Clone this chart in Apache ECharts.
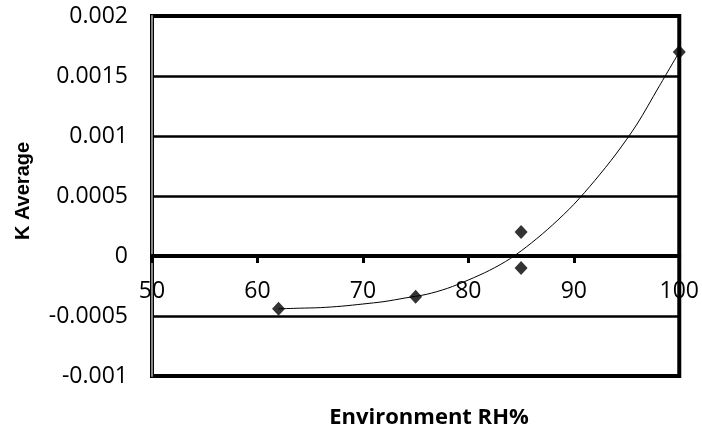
<!DOCTYPE html>
<html>
<head>
<meta charset="utf-8">
<script src="https://cdn.jsdelivr.net/npm/echarts@6/dist/echarts.min.js"></script>
<style>
html,body{margin:0;padding:0;background:#fff;}
#chart{width:702px;height:434px;}
</style>
</head>
<body>
<div id="chart"></div>
<script>
// Measured points
const rhValues = [62, 75, 85, 85, 100];
const kValues = [-0.00044, -0.00034, 0.0002, -0.0001, 0.0017];
// Trendline
const trendX = [62, 64, 66, 68, 70, 72, 74, 76, 78, 80, 82, 84, 86, 88, 90, 92, 94, 96, 98, 100];
const trendY = [-0.00044, -0.000435, -0.00043, -0.000418, -0.0004, -0.00038, -0.00035, -0.00032, -0.00027, -0.0002,
  -0.00012, -0.00002, 0.00011, 0.00026, 0.00043, 0.00063, 0.00085, 0.0011, 0.0014, 0.0017];
const xAxisTitle = 'Environment RH%';
const yAxisTitle = 'K Average';

const chart = echarts.init(document.getElementById('chart'), null, {renderer: 'canvas'});
chart.setOption({
  animation: false,
  backgroundColor: '#fff',
  grid: {left: 152, right: 20, top: 16, bottom: 58, show: true, borderColor: '#000', borderWidth: 4, backgroundColor: 'transparent'},
  xAxis: {
    type: 'value', min: 50, max: 100, interval: 10,
    position: 'bottom', offset: -120,
    axisLine: {show: true, onZero: false, lineStyle: {color: '#000', width: 4}},
    axisTick: {show: true, inside: false, length: 7, lineStyle: {color: '#000', width: 3}},
    axisLabel: {margin: 24, color: '#000', fontFamily: 'Open Sans', fontSize: 23},
    splitLine: {show: false}
  },
  yAxis: {
    type: 'value', min: -0.001, max: 0.002, interval: 0.0005,
    axisLine: {show: true, lineStyle: {color: '#888', width: 2}},
    axisTick: {show: false},
    axisLabel: {margin: 24, color: '#000', fontFamily: 'Open Sans', fontSize: 23,
      formatter: v => String(Number(v.toFixed(4)))},
    splitLine: {show: true, lineStyle: {color: '#000', width: 2.5}}
  },
  graphic: [{
    type: 'text', x: 429, y: 418,
    style: {text: xAxisTitle, textAlign: 'center', textVerticalAlign: 'middle',
      font: 'bold 22px "Open Sans"', fill: '#000'}
  }, {
    type: 'text', x: 23, y: 191, rotation: Math.PI / 2,
    style: {text: yAxisTitle, textAlign: 'center', textVerticalAlign: 'middle',
      font: 'bold 20px "Liberation Sans"', fill: '#000'}
  }],
  series: [
    {
      type: 'line', data: trendX.map((x, i) => [x, trendY[i]]),
      smooth: 0.3, showSymbol: false, symbol: 'none',
      lineStyle: {color: '#000', width: 1}, z: 3, silent: true
    },
    {
      type: 'scatter', data: rhValues.map((x, i) => [x, kValues[i]]),
      symbol: 'diamond', symbolSize: [13, 14],
      itemStyle: {color: '#000'}, z: 4
    }
  ]
});
</script>
</body>
</html>
